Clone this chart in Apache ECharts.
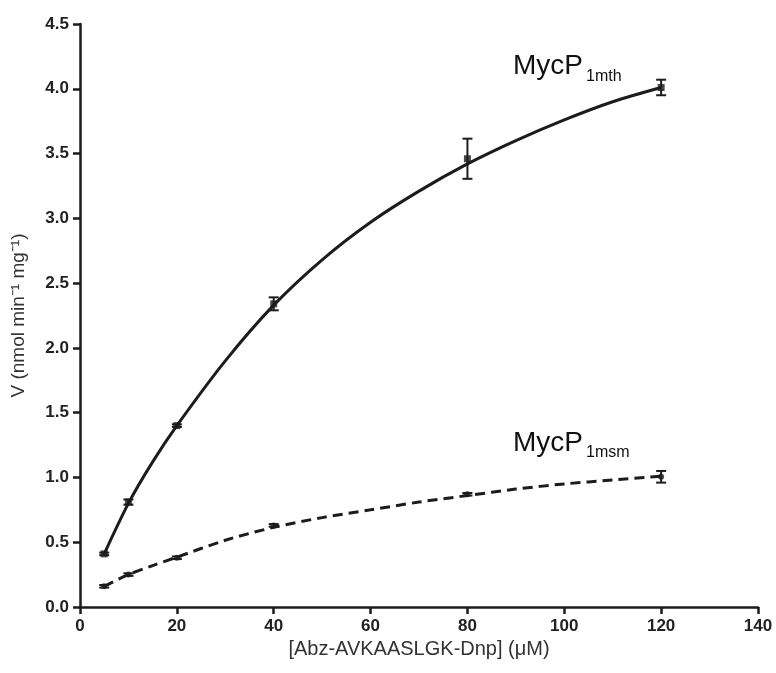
<!DOCTYPE html>
<html>
<head>
<meta charset="utf-8">
<script src="https://cdn.jsdelivr.net/npm/echarts@6/dist/echarts.min.js"></script>
<style>
  html, body { margin: 0; padding: 0; background: #fff; }
  #main { width: 776px; height: 673px; }
</style>
</head>
<body>
<div id="main"></div>
<script>
// substrate concentrations (uM)
const conc = [5, 10, 20, 40, 80, 120];
// MycP1mth rates and error (nmol min-1 mg-1)
const mthV = [0.41, 0.81, 1.40, 2.34, 3.46, 4.01];
const mthErr = [0.01, 0.02, 0.01, 0.05, 0.155, 0.06];
// MycP1msm rates and error
const msmV = [0.16, 0.25, 0.38, 0.63, 0.87, 1.005];
const msmErr = [0.01, 0.01, 0.01, 0.01, 0.01, 0.045];

// fitted curves
const fitX = [5, 10, 15, 20, 30, 40, 50, 60, 70, 80, 90, 100, 110, 120];
const mthFit = [0.41, 0.80, 1.12, 1.40, 1.90, 2.33, 2.68, 2.97, 3.21, 3.42, 3.60, 3.76, 3.90, 4.01];
const msmFit = [0.16, 0.25, 0.32, 0.385, 0.515, 0.615, 0.69, 0.75, 0.81, 0.86, 0.91, 0.95, 0.98, 1.01];

const xTicks = [0, 20, 40, 60, 80, 100, 120, 140];

const ink = "#1c1c1c";

function pairs(xs, ys) {
  return xs.map((x, i) => [x, ys[i]]);
}
function errData(xs, ys, es) {
  return xs.map((x, i) => [x, ys[i] - es[i], ys[i] + es[i]]);
}

// error bar drawn through the axes
function errorBar(params, api) {
  const lo = api.coord([api.value(0), api.value(1)]);
  const hi = api.coord([api.value(0), api.value(2)]);
  const w = 5;
  const style = { stroke: ink, lineWidth: 2 };
  return {
    type: "group",
    children: [
      { type: "line", shape: { x1: lo[0], y1: lo[1], x2: hi[0], y2: hi[1] }, style },
      { type: "line", shape: { x1: lo[0] - w, y1: lo[1], x2: lo[0] + w, y2: lo[1] }, style },
      { type: "line", shape: { x1: hi[0] - w, y1: hi[1], x2: hi[0] + w, y2: hi[1] }, style }
    ]
  };
}

const chartDom = document.getElementById("main");
const myChart = echarts.init(chartDom);

const option = {
  animation: false,
  backgroundColor: "#fff",
  grid: { left: 80, right: 18, top: 24, bottom: 66, containLabel: false },
  xAxis: {
    type: "value",
    min: 0,
    max: 140,
    interval: 20,
    name: "[Abz-AVKAASLGK-Dnp] (\u03bcM)",
    nameLocation: "middle",
    nameGap: 30,
    nameTextStyle: { fontFamily: "Liberation Sans", fontSize: 20, color: "#333" },
    axisLine: { lineStyle: { color: ink, width: 2.5 } },
    axisTick: { length: 7, lineStyle: { color: ink, width: 2.5 } },
    axisLabel: {
      margin: 11,
      fontFamily: "Liberation Sans",
      fontWeight: "bold",
      fontSize: 17,
      color: "#222",
      formatter: v => (xTicks.indexOf(v) >= 0 ? String(v) : "")
    },
    splitLine: { show: false }
  },
  yAxis: {
    type: "value",
    min: 0,
    max: 4.5,
    interval: 0.5,
    name: "V (nmol min\u207b\u00b9 mg\u207b\u00b9)",
    nameLocation: "middle",
    nameGap: 52,
    nameTextStyle: { fontFamily: "Liberation Sans", fontSize: 19, color: "#333" },
    axisLine: { show: true, lineStyle: { color: ink, width: 2.5 } },
    axisTick: { show: true, length: 7, lineStyle: { color: ink, width: 2.5 } },
    axisLabel: {
      margin: 11,
      fontFamily: "Liberation Sans",
      fontWeight: "bold",
      fontSize: 17,
      color: "#222",
      formatter: v => v.toFixed(1)
    },
    splitLine: { show: false }
  },
  series: [
    {
      name: "MycP1mth fit",
      type: "line",
      data: pairs(fitX, mthFit),
      smooth: 0.3,
      showSymbol: false,
      lineStyle: { color: ink, width: 3 },
      z: 2
    },
    {
      name: "MycP1msm fit",
      type: "line",
      data: pairs(fitX, msmFit),
      smooth: 0.3,
      showSymbol: false,
      lineStyle: { color: ink, width: 3, type: [10, 6] },
      z: 2
    },
    {
      type: "scatter",
      data: pairs(conc, mthV),
      symbol: "rect",
      symbolSize: 7,
      itemStyle: { color: ink },
      z: 3
    },
    {
      type: "scatter",
      data: pairs(conc, msmV),
      symbol: "circle",
      symbolSize: 6,
      itemStyle: { color: ink },
      z: 3
    },
    {
      type: "custom",
      renderItem: errorBar,
      data: errData(conc, mthV, mthErr),
      encode: { x: 0, y: [1, 2] },
      z: 4
    },
    {
      type: "custom",
      renderItem: errorBar,
      data: errData(conc, msmV, msmErr),
      encode: { x: 0, y: [1, 2] },
      z: 4
    }
  ],
  graphic: [
    { type: "text", left: 513, top: 52, style: { text: "MycP", font: "28px 'Liberation Sans'", fill: "#111" } },
    { type: "text", left: 586, top: 69, style: { text: "1mth", font: "16px 'Liberation Sans'", fill: "#111" } },
    { type: "text", left: 513, top: 429, style: { text: "MycP", font: "28px 'Liberation Sans'", fill: "#111" } },
    { type: "text", left: 586, top: 445, style: { text: "1msm", font: "16px 'Liberation Sans'", fill: "#111" } }
  ]
};

option && myChart.setOption(option);
</script>
</body>
</html>
